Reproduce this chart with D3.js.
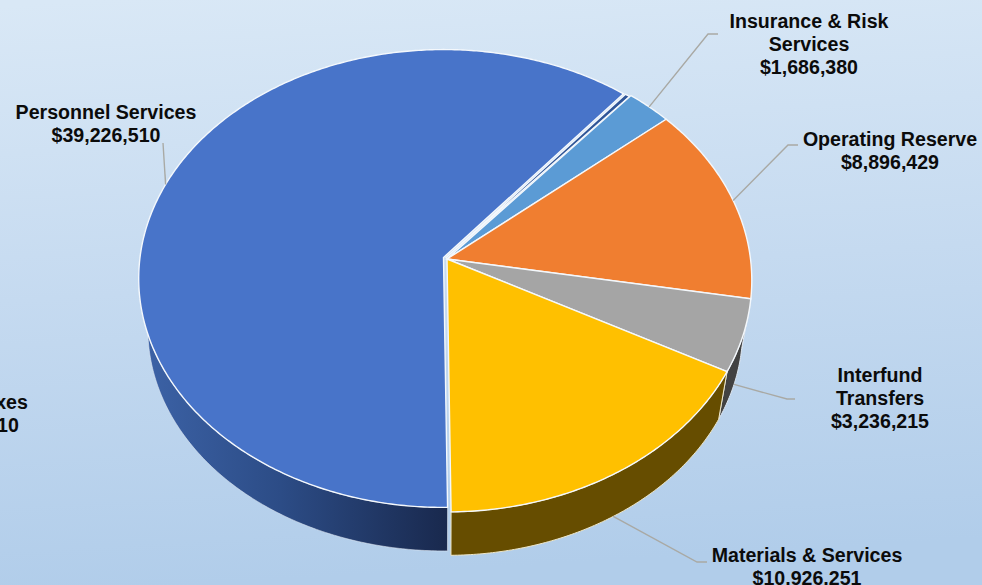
<!DOCTYPE html>
<html>
<head>
<meta charset="utf-8">
<script src="https://cdnjs.cloudflare.com/ajax/libs/d3/7.8.5/d3.min.js"></script>
<style>
html,body{margin:0;padding:0;background:#c6daef;overflow:hidden}
svg{display:block}
text{font-family:"Liberation Sans",Arial,sans-serif;font-weight:700;font-size:19.6px;fill:#0b0b0b;text-anchor:middle}
</style>
</head>
<body>
<svg id="chart" width="982" height="585"></svg>
<script>
// Budget categories, clockwise from the front of the pie
const categories = ["Personnel Services", "Fuel Taxes", "Insurance & Risk Services", "Operating Reserve", "Interfund Transfers", "Materials & Services"];
const amounts = [39226510, 178410, 1686380, 8896429, 3236215, 10926251];
const labelLines = [["Personnel Services"], ["Fuel Taxes"], ["Insurance & Risk", "Services"], ["Operating Reserve"], ["Interfund", "Transfers"], ["Materials & Services"]];
const topColors = ["#4874c9", "#2f5597", "#5b9bd5", "#f07e30", "#a5a5a5", "#ffc000"];
const sideColors = ["url(#personnelWall)", "#1b2b52", "#2f5f8a", "#8f4c1c", "#424242", "#664d00"];

const W = 982, H = 585;
const svg = d3.select("#chart");

// Pie geometry: a disc seen in perspective, with a lower rim for the thickness
const geo = {cx: 447, cy: 259, rx: 303.5, ry: 227, persp: 0.0917, baseScale: 0.97, baseDrop: 51, startDeg: 179.3};
const pullX = [-3.5, -1.5, 0, 0, 0, 0];      // explosion of each slice, sideways
const pullY = [-1.5, -1, 0, 0, 0, 0];        // and vertically
const depthScale = [1, 1, 1.012, 1.012, 1.012, 1.012];

// Where each text block and its leader elbow sit
const labelCenter = [[106, 119], [-22, 409], [809, 28], [890, 146], [880, 382], [807, 562]];
const lineGap = 23;
const elbows = [
  [[163, 143]],
  [],
  [[708, 34], [718, 34]],
  [[788, 145], [798, 145]],
  [[787, 399], [795, 399]],
  [[697, 562], [707, 562]]
];
const leaderOnWall = [false, false, false, false, true, true];

const defs = svg.append("defs");
const bg = defs.append("linearGradient").attr("id", "backdrop")
  .attr("x1", 0.1).attr("y1", 0).attr("x2", 0.2).attr("y2", 1);
bg.append("stop").attr("offset", 0).attr("stop-color", "#d9e8f6");
bg.append("stop").attr("offset", 0.5).attr("stop-color", "#c5daf0");
bg.append("stop").attr("offset", 1).attr("stop-color", "#b1cdea");
const wall = defs.append("linearGradient").attr("id", "personnelWall")
  .attr("gradientUnits", "userSpaceOnUse").attr("x1", 145).attr("y1", 0).attr("x2", 446).attr("y2", 0);
wall.append("stop").attr("offset", 0).attr("stop-color", "#3c62a6");
wall.append("stop").attr("offset", 0.45).attr("stop-color", "#2c4c86");
wall.append("stop").attr("offset", 1).attr("stop-color", "#19294e");

svg.append("rect").attr("width", W).attr("height", H).attr("fill", "url(#backdrop)");

const pie = d3.pie().sort(null)
  .startAngle(geo.startDeg * Math.PI / 180)
  .endAngle((geo.startDeg + 360) * Math.PI / 180);
const arcs = pie(amounts);

// Angle measured clockwise from the far side of the disc to screen position
function rim(theta, i, lower) {
  const d = 1 + geo.persp * Math.cos(theta);
  const s = lower ? geo.baseScale : 1;
  const drop = lower ? geo.baseDrop : 0;
  return [
    geo.cx + pullX[i] + s * geo.rx * Math.sin(theta) / d,
    geo.cy + pullY[i] + drop - s * geo.ry * depthScale[i] * Math.cos(theta) / d
  ];
}
function sweep(a, b, i, lower) {
  const n = Math.max(2, Math.ceil(Math.abs(b - a) / 0.01));
  return d3.range(n + 1).map(k => rim(a + (b - a) * k / n, i, lower));
}
const outline = d3.line();

// Outer walls first, only where the rim faces the viewer.
// The front half of the disc spans a quarter turn either side of the near point,
// and slices past the far point carry angles one full turn higher.
const walls = svg.append("g");
arcs.forEach((a, i) => {
  const turn = a.startAngle >= 2 * Math.PI ? 2 * Math.PI : 0;
  const from = Math.max(a.startAngle, turn + Math.PI / 2 + 0.05);
  const to = Math.min(a.endAngle, turn + 3 * Math.PI / 2 - 0.05);
  if (to <= from) return;
  walls.append("path")
    .attr("d", outline(sweep(from, to, i, false).concat(sweep(to, from, i, true))) + "Z")
    .attr("fill", sideColors[i])
    .attr("stroke", i === 5 ? "#efe7c8" : "#dfe8f2")
    .attr("stroke-width", i === 0 ? 0.6 : 1)
    .attr("stroke-linejoin", "round");
});

// Top faces
svg.append("g").selectAll("path").data(arcs).join("path")
  .attr("d", (a, i) => {
    const apex = [geo.cx + pullX[i], geo.cy + pullY[i]];
    return outline([apex].concat(sweep(a.startAngle, a.endAngle, i, false))) + "Z";
  })
  .attr("fill", (a, i) => topColors[i])
  .attr("stroke", "#f4f8fc")
  .attr("stroke-width", 1.4)
  .attr("stroke-linejoin", "miter");

// Leader lines from each slice rim to its label
const money = d3.format("$,");
const leaders = svg.append("g").attr("fill", "none").attr("stroke", "#a9a9a4").attr("stroke-width", 1.4);
arcs.forEach((a, i) => {
  if (!elbows[i].length) return;
  const mid = (a.startAngle + a.endAngle) / 2;
  leaders.append("path").attr("d", outline([rim(mid, i, leaderOnWall[i])].concat(elbows[i])));
});

// Category and amount text blocks
const labels = svg.append("g");
arcs.forEach((a, i) => {
  const [x, y] = labelCenter[i];
  labelLines[i].concat([money(amounts[i])]).forEach((line, k) => {
    labels.append("text").attr("x", x).attr("y", y + k * lineGap).text(line);
  });
});
</script>
</body>
</html>
